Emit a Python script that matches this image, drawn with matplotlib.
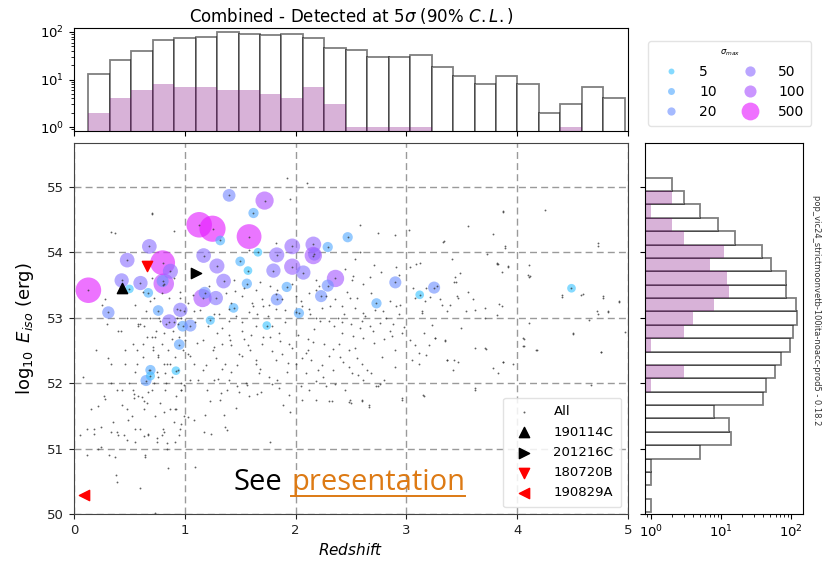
import numpy as np
import matplotlib
matplotlib.use('Agg')
import matplotlib.pyplot as plt
from matplotlib.colors import LogNorm
from matplotlib.lines import Line2D

# ── Data ──────────────────────────────────────────────────────────────────────

# top histogram (redshift), 25 bins
Z_EDGES = np.linspace(0.13, 4.97, 26)
Z_ALL = [13, 26, 39, 67, 75, 80, 100, 91, 85, 89, 73, 46, 42, 30, 30, 33, 18, 12, 8, 12, 8, 2, 3, 7, 4]
Z_DET = [2, 4, 6, 8, 7, 7, 6, 6, 5, 4, 7, 3, 1, 1, 1, 1, 0, 0, 0, 0, 0, 0, 1, 0, 0]

# right histogram (log10 Eiso), 25 bins, listed from bottom to top
E_EDGES = np.linspace(50.03, 55.14, 26)
E_ALL = [1, 0, 1, 1, 5, 14, 13, 8, 40, 44, 58, 72, 97, 105, 120, 115, 85, 85, 52, 38, 16, 9, 5, 3, 2]
E_DET = [0, 0, 0, 0, 0, 0, 0, 0, 0, 1, 3, 0, 1, 3, 4, 8, 13, 12, 7, 11, 3, 2, 1, 2, 0]

# all simulated GRBs (redshift, log10 Eiso)
ALL_POINTS = [
    (0.05, 51.2), (0.08, 52.1), (0.12, 50.9), (0.15, 51.6), (0.18, 51.3), (0.2, 52.5), (0.22, 51.0),
    (0.25, 53.2), (0.27, 51.8), (0.3, 52.9), (0.32, 50.9), (0.33, 52.3), (0.35, 51.4), (0.37, 54.3),
    (0.38, 50.6), (0.4, 51.2), (0.42, 52.8), (0.43, 51.9), (0.45, 51.2), (0.46, 52.5), (0.48, 53.0),
    (0.48, 51.6), (0.12, 51.3), (0.28, 51.75), (0.4, 52.8),
    (0.5, 52.0), (0.52, 51.5), (0.53, 52.6), (0.55, 51.1), (0.55, 53.2), (0.57, 52.3), (0.58, 51.8),
    (0.6, 52.9), (0.6, 51.3), (0.62, 52.4), (0.63, 51.6), (0.64, 50.9), (0.65, 53.1), (0.66, 52.7),
    (0.67, 51.2), (0.68, 52.2), (0.7, 54.6), (0.7, 51.9), (0.71, 52.5), (0.72, 53.3), (0.73, 51.5),
    (0.74, 52.8), (0.75, 51.1), (0.76, 52.1), (0.77, 53.0), (0.78, 51.7), (0.79, 52.6), (0.8, 51.3),
    (0.8, 53.5), (0.81, 52.3), (0.82, 51.9), (0.83, 52.9), (0.84, 51.0), (0.85, 52.5), (0.86, 53.3),
    (0.87, 51.6), (0.88, 52.1), (0.89, 52.8), (0.9, 51.4), (0.9, 53.6), (0.91, 52.4), (0.92, 51.8),
    (0.93, 53.0), (0.94, 52.2), (0.95, 51.2), (0.95, 52.7), (0.96, 53.4), (0.97, 51.9), (0.98, 52.5),
    (0.99, 51.5), (0.99, 53.1), (0.58, 52.9), (0.62, 53.4), (0.66, 51.7), (0.69, 53.0), (0.72, 52.0),
    (0.76, 52.4), (0.79, 51.2), (0.83, 52.0), (0.87, 52.3), (0.91, 51.1), (0.94, 52.9), (0.97, 52.0),
    (0.53, 51.9), (0.6, 50.4), (0.85, 50.7), (0.92, 51.6), (0.96, 51.3), (0.7, 52.7), (0.78, 52.95),
    (0.31, 52.38), (0.46, 52.3), (0.55, 52.17), (0.33, 52.0), (0.39, 51.89), (0.22, 51.65), (0.43, 51.67),
    (0.49, 51.44), (0.24, 51.33), (0.33, 51.26), (0.18, 51.23), (0.39, 51.26), (0.48, 51.13), (0.55, 51.3),
    (0.63, 51.19), (0.67, 51.22), (0.75, 51.16), (0.81, 51.26), (0.84, 51.08), (0.24, 51.03), (0.37, 50.87),
    (0.64, 50.87), (1.09, 50.72), (0.39, 50.49), (0.73, 50.02), (0.61, 51.79), (0.63, 51.72), (0.54, 51.77),
    (0.54, 51.84), (0.67, 51.87), (0.81, 51.56), (0.91, 51.6), (0.97, 51.38), (1.03, 51.48), (1.08, 51.43),
    (1.17, 51.26), (1.24, 51.23), (1.36, 51.33), (1.38, 51.28), (1.18, 51.51), (1.35, 51.51), (1.23, 51.72),
    (1.32, 51.74), (1.46, 51.62), (1.49, 51.87), (1.65, 51.84), (1.69, 51.87), (1.77, 51.1), (1.85, 51.92),
    (1.89, 51.67), (1.95, 51.56), (1.94, 51.82), (2.06, 51.74), (2.18, 51.74), (2.3, 51.73), (2.33, 51.73),
    (2.48, 51.71), (2.12, 51.89), (2.25, 52.1), (0.97, 51.89), (0.99, 51.97), (1.05, 52.05), (1.2, 51.89),
    (1.26, 52.05), (1.3, 52.07), (1.38, 51.89), (1.55, 52.0), (1.56, 51.97), (1.76, 52.1), (1.83, 52.05),
    (0.82, 52.15), (0.75, 52.17), (0.84, 52.3), (0.57, 52.5), (0.62, 52.6), (0.71, 52.55), (0.76, 52.43),
    (0.73, 52.71), (0.88, 52.68), (0.81, 52.76), (1.0, 52.66), (1.05, 52.41), (1.08, 52.3), (1.16, 52.2),
    (1.25, 52.51), (1.28, 52.38), (1.34, 52.6), (1.4, 52.73), (1.42, 52.58), (1.36, 52.3), (1.42, 52.17),
    (1.52, 52.41), (1.53, 52.68), (1.64, 52.3), (1.67, 52.15), (1.59, 52.51), (1.7, 52.6), (1.77, 52.71),
    (1.82, 52.35), (1.88, 52.45), (1.94, 52.6), (1.97, 52.53), (2.0, 52.3), (2.06, 52.38), (2.09, 52.15),
    (2.11, 52.51), (2.16, 52.63), (2.24, 52.28), (2.3, 52.41), (2.34, 52.2), (2.39, 52.6), (2.43, 52.33),
    (2.48, 52.51), (2.51, 52.15), (2.11, 52.68), (1.85, 52.76), (1.29, 52.76), (1.16, 52.66), (1.52, 52.79),
    (1.6, 52.73), (1.68, 52.22), (1.4, 52.05), (1.47, 52.28), (1.92, 52.17), (2.18, 52.03), (2.36, 51.98),
    (0.70, 54.58), (0.33, 54.31), (0.9, 54.33), (1.92, 55.14), (1.95, 54.81), (2.1, 55.06), (1.58, 54.04),
    (1.82, 54.14), (1.44, 53.58), (1.45, 53.41), (1.52, 53.33), (1.42, 53.23), (1.64, 53.43), (1.7, 53.28),
    (1.77, 53.48), (1.82, 53.36), (1.71, 53.18), (1.58, 53.08), (1.65, 53.05), (1.82, 53.13), (1.88, 53.28),
    (2.0, 53.33), (2.12, 53.38), (2.18, 53.58), (2.27, 53.33), (2.36, 53.28), (2.42, 53.18), (2.12, 53.13),
    (2.18, 53.0), (2.3, 52.95), (2.42, 52.93), (1.9, 52.93), (1.79, 52.88), (1.64, 52.88), (1.52, 52.93),
    (1.4, 52.95), (1.34, 52.85), (1.21, 52.88), (1.09, 52.93), (0.97, 53.0), (0.93, 53.13), (0.96, 53.3),
    (1.03, 53.23), (1.08, 53.1), (0.9, 52.93), (0.63, 52.88), (0.58, 52.88), (0.28, 53.29), (0.69, 53.25),
    (0.79, 53.38), (0.70, 53.6), (1.26, 53.05), (1.4, 53.13), (1.62, 53.18), (1.76, 53.2), (2.0, 53.08),
    (2.45, 53.74), (2.51, 53.58), (2.49, 53.3), (2.18, 53.43), (2.06, 53.18), (2.24, 53.15),
    (3.87, 54.62), (4.25, 54.64), (3.56, 54.4), (3.78, 54.28), (3.33, 54.16), (3.02, 54.34), (2.58, 54.42),
    (2.74, 54.3), (3.89, 54.07), (3.73, 53.98), (4.73, 54.1), (3.83, 53.82), (3.92, 53.77), (4.11, 53.8),
    (4.11, 53.62), (3.41, 53.9), (3.48, 53.69), (3.86, 53.7), (4.4, 53.32), (4.58, 53.34), (4.77, 53.3),
    (4.92, 53.24), (4.73, 53.05), (4.82, 53.08), (3.71, 53.0), (3.82, 53.04), (3.86, 53.18), (3.62, 53.12),
    (3.44, 53.62), (3.43, 53.55), (3.47, 53.3), (3.39, 53.2), (3.3, 53.28), (3.21, 53.32), (3.18, 53.45),
    (3.09, 53.82), (3.12, 53.84), (3.03, 53.78), (2.9, 54.26), (2.58, 54.0), (2.54, 53.9), (2.71, 53.8),
    (2.67, 53.62), (2.77, 53.7), (2.91, 53.77), (2.93, 53.65), (2.52, 53.63), (2.61, 53.52), (2.68, 53.38),
    (2.85, 53.25), (2.91, 53.18), (2.94, 53.2), (2.79, 53.1), (2.61, 53.07), (2.54, 53.15), (3.06, 53.45),
    (3.08, 53.3), (3.14, 53.1), (3.17, 53.25), (3.32, 53.2), (3.56, 53.4), (3.82, 53.82), (4.1, 53.65),
    (2.61, 52.69), (2.71, 52.62), (2.8, 52.67), (2.87, 52.72), (2.96, 52.77), (2.54, 52.53), (2.55, 52.38),
    (2.64, 52.2), (2.78, 52.4), (2.9, 52.24), (2.61, 52.05), (2.73, 51.95), (2.76, 51.98), (2.96, 51.77),
    (3.15, 51.82), (3.03, 52.66), (3.08, 52.59), (3.2, 52.59), (3.26, 52.69), (3.35, 52.64), (3.11, 52.3),
    (3.18, 52.43), (3.37, 52.35), (3.42, 52.2), (3.47, 52.33), (3.72, 52.52), (3.87, 52.33), (3.83, 52.16),
    (3.78, 52.23), (3.96, 52.3), (4.05, 52.69), (4.06, 52.56), (4.17, 52.51), (4.5, 52.75), (4.76, 52.47),
    (4.67, 51.97), (3.62, 51.9), (2.49, 51.74), (2.6, 51.74), (2.66, 51.66),
    (3.16, 51.8), (3.62, 51.92), (2.96, 51.74), (2.74, 51.95), (2.5, 51.69), (2.6, 51.72), (2.66, 51.64),
    (4.76, 52.48), (4.65, 52.97), (4.97, 52.78), (4.5, 52.77), (4.18, 52.51), (4.06, 52.67), (4.11, 52.92),
    (4.05, 52.57), (3.87, 52.33), (3.71, 52.53), (3.87, 54.63), (4.73, 54.14), (4.92, 53.25), (4.77, 53.33),
    (4.59, 53.36), (4.4, 53.34), (4.82, 53.1), (4.72, 53.11), (3.34, 54.17), (3.89, 54.09), (3.92, 53.79),
    (3.82, 53.84), (4.12, 53.64), (3.45, 53.54), (3.71, 53.15), (3.84, 53.21), (3.6, 53.28), (3.54, 53.1),
    (3.37, 53.1), (3.46, 53.33), (3.28, 53.48), (3.14, 53.07), (3.23, 52.89), (3.35, 52.66), (3.49, 52.84),
    (3.26, 52.69), (3.16, 52.77), (3.11, 52.46), (3.05, 52.36), (3.43, 52.36), (3.37, 52.35), (3.62, 52.54),
    (1.03, 52.45), (1.07, 53.35), (1.11, 52.62), (1.14, 53.12), (1.19, 52.28), (1.22, 53.48), (1.26, 52.55),
    (1.31, 53.05), (1.34, 52.22), (1.37, 53.38), (1.41, 52.66), (1.46, 53.02), (1.49, 52.44), (1.53, 53.45),
    (1.57, 52.58), (1.61, 53.22), (1.64, 52.36), (1.68, 53.55), (1.71, 52.71), (1.75, 53.02), (1.79, 52.49),
    (1.83, 53.42), (1.86, 52.64), (1.9, 53.12), (1.93, 52.31), (1.97, 53.52), (2.02, 52.74), (2.05, 53.25),
    (2.09, 52.46), (2.13, 53.06), (2.17, 52.82), (2.21, 53.48), (2.26, 52.6), (2.31, 53.18), (2.34, 52.52),
    (2.38, 53.0), (2.42, 52.76), (2.46, 53.4), (2.5, 52.9), (2.55, 53.3), (2.58, 52.85), (2.63, 53.02),
    (2.67, 52.88), (2.72, 53.12), (2.76, 52.92), (2.82, 53.0), (2.88, 52.9), (2.93, 53.05), (2.98, 52.86),
    (2.22, 52.95), (2.35, 52.88), (2.44, 53.05), (2.52, 52.72), (2.6, 52.95), (2.7, 52.8), (2.85, 52.8),
    (2.4, 52.4), (2.48, 52.25), (2.56, 52.12), (2.2, 52.2), (2.27, 51.95), (2.14, 52.36), (1.12, 52.05),
    (1.47, 51.95), (1.79, 51.98), (1.58, 51.8), (1.33, 51.85), (2.05, 51.95), (2.45, 51.9), (2.6, 52.3),
    (2.9, 52.5), (2.68, 52.15), (2.8, 52.05),
]

# detected GRBs: redshift, log10 Eiso, sigma_max
DET_Z = [0.13, 0.31, 0.43, 0.48, 0.50, 0.60, 0.68, 0.67, 0.80, 0.81, 0.80, 0.87, 0.76, 0.86, 0.96,
         0.98, 1.05, 0.95, 0.69, 0.65, 0.69, 0.92, 1.13, 1.25, 1.32, 1.17, 1.29, 1.35, 1.16, 1.18,
         1.28, 1.23, 1.44, 1.40, 1.62, 1.72, 1.58, 1.66, 1.50, 1.57, 1.56, 1.83, 1.80, 1.97, 1.97,
         2.07, 2.16, 2.17, 2.16, 1.92, 1.83, 1.74, 2.03, 2.29, 2.47, 2.36, 2.29, 2.23, 2.90, 2.73,
         3.12, 3.25, 4.49]
DET_E = [53.42, 53.08, 53.57, 53.88, 53.44, 53.53, 54.09, 53.38, 53.84, 53.52, 53.56, 53.71, 53.11,
         52.94, 53.12, 52.87, 52.88, 52.59, 52.20, 52.04, 52.11, 52.19, 54.42, 54.36, 54.18, 53.95,
         53.79, 53.56, 53.30, 53.38, 53.30, 52.96, 53.15, 54.87, 54.60, 54.79, 54.24, 54.00, 53.86,
         53.72, 53.52, 53.96, 53.72, 54.09, 53.78, 53.69, 54.12, 53.97, 53.95, 53.47, 53.28, 52.88,
         53.07, 54.08, 54.23, 53.60, 53.49, 53.33, 53.54, 53.22, 53.35, 53.46, 53.45]
DET_SIG = [450, 22, 40, 45, 5, 40, 45, 8, 400, 180, 20, 50, 12, 45, 40, 12, 20, 12, 10, 14, 6, 5,
           450, 500, 8, 45, 50, 45, 110, 20, 40, 6, 8, 25, 10, 110, 400, 5, 8, 5, 10, 50, 40, 60,
           70, 40, 60, 25, 90, 10, 20, 5, 10, 10, 10, 90, 20, 20, 20, 10, 5, 20, 5]

# highlighted real GRBs
GRB_NAMES = ['190114C', '201216C', '180720B', '190829A']
GRB_Z = [0.43, 1.10, 0.655, 0.09]
GRB_E = [53.45, 53.68, 53.79, 50.29]
GRB_MARKERS = ['^', '>', 'v', '<']
GRB_COLORS = ['black', 'black', 'red', 'red']

SIG_LEGEND = [5, 10, 20, 50, 100, 500]

# ── Style ─────────────────────────────────────────────────────────────────────

CMAP = plt.get_cmap('cool')
NORM = LogNorm(vmin=1, vmax=1000)
ALPHA = 0.62


def sig_size(sig):
    return 18 * np.asarray(sig, dtype=float) ** 0.48


fig = plt.figure(figsize=(8.33, 5.63), dpi=100)
W, H = 833, 563


def frac(x0, y0, x1, y1):
    # pixel box (top-left origin) -> figure fraction rect
    return [x0 / W, 1 - y1 / H, (x1 - x0) / W, (y1 - y0) / H]


ax = fig.add_axes(frac(74, 143, 628, 514))
ax_top = fig.add_axes(frac(74, 28, 628, 131), sharex=ax)
ax_right = fig.add_axes(frac(645, 143, 803, 514), sharey=ax)

# ── Main scatter ──────────────────────────────────────────────────────────────
det_z = np.array(DET_Z)
det_e = np.array(DET_E)
det_s = np.array(DET_SIG)

ax.scatter(det_z, det_e, s=sig_size(det_s), c=det_s, cmap=CMAP, norm=NORM,
           alpha=ALPHA, edgecolors='none', zorder=2)

pts = np.array(ALL_POINTS + list(zip(DET_Z, DET_E)))
ax.scatter(pts[:, 0], pts[:, 1], s=7, color='#3a3a3a', alpha=0.8, marker='.',
           linewidths=0, zorder=3, label='All')

for name, z, e, m, c in zip(GRB_NAMES, GRB_Z, GRB_E, GRB_MARKERS, GRB_COLORS):
    ax.scatter([z], [e], marker=m, color=c, s=55, zorder=4, label=name)

ax.set_xlim(0, 5)
ax.set_ylim(50, 55.67)
ax.set_xticks([0, 1, 2, 3, 4, 5])
ax.set_yticks([50, 51, 52, 53, 54, 55])
ax.grid(True, ls=(0, (5, 3)), color='#9a9a9a', lw=1.0)
ax.tick_params(labelsize=9.5, colors='#222222')
ax.set_xlabel(r'$Redshift$', fontsize=11, labelpad=4)
ax.set_ylabel(r'$\log_{10}\ E_{iso}$ (erg)', fontsize=13, labelpad=8)
for sp in ax.spines.values():
    sp.set_color('#444444')

leg = ax.legend(loc='lower right', fontsize=9.5, handletextpad=1.2,
                borderpad=0.6, labelspacing=0.55, framealpha=0.85, edgecolor='#dddddd')
leg.legend_handles[0].set_sizes([8])

# "See presentation" overlay
t1 = ax.text(1.44, 50.36, 'See', fontsize=21, family='Open Sans', color='black',
             ha='left', va='baseline', zorder=6)
t2 = ax.text(1.96, 50.36, 'presentation', fontsize=21, family='Open Sans', color='#dd7a14',
             ha='left', va='baseline', zorder=6)

# ── Top histogram ─────────────────────────────────────────────────────────────
zc = 0.5 * (Z_EDGES[:-1] + Z_EDGES[1:])
ax_top.hist(zc, bins=Z_EDGES, weights=Z_ALL, log=True, facecolor='white',
            edgecolor=(0, 0, 0, 0.5), linewidth=1.3)
ax_top.hist(zc, bins=Z_EDGES, weights=Z_DET, log=True, color='purple', alpha=0.3)
ax_top.set_ylim(0.83, 121)
ax_top.set_yticks([1, 10, 100])
ax_top.tick_params(axis='x', labelbottom=False)
ax_top.tick_params(labelsize=9.5)
ax_top.set_title(r'Combined - Detected at 5$\sigma$ (90% $C.L.$)', fontsize=12, pad=4)

# ── Right histogram ───────────────────────────────────────────────────────────
ec = 0.5 * (E_EDGES[:-1] + E_EDGES[1:])
ax_right.hist(ec, bins=E_EDGES, weights=E_ALL, log=True, orientation='horizontal',
              facecolor='white', edgecolor=(0, 0, 0, 0.5), linewidth=1.3)
ax_right.hist(ec, bins=E_EDGES, weights=E_DET, log=True, orientation='horizontal',
              color='purple', alpha=0.3)
ax_right.set_xlim(0.83, 147)
ax_right.set_xticks([1, 10, 100])
ax_right.tick_params(axis='y', labelleft=False)
ax_right.tick_params(labelsize=9.5)

# ── sigma_max legend ──────────────────────────────────────────────────────────
handles = [Line2D([], [], ls='', marker='o', markersize=np.sqrt(sig_size(s)),
                  markerfacecolor=CMAP(NORM(s)), markeredgecolor='none', alpha=ALPHA)
           for s in SIG_LEGEND]
fig.legend(handles, [str(s) for s in SIG_LEGEND], ncol=2, title=r'$\sigma_{max}$',
           title_fontsize=6, fontsize=10, loc='upper left', markerscale=0.68,
           bbox_to_anchor=(641 / W, 1 - 34 / H), frameon=True, edgecolor='#dddddd',
           columnspacing=1.2, handletextpad=0.9, labelspacing=0.45, borderpad=0.5,
           handlelength=2.3)

fig.text(817 / W, 1 - 310 / H, 'pop_vic24_strictmoonvetb-100ita-noacc-prod5 - 0.18.2',
         rotation=-90, fontsize=6, color='#333333', ha='center', va='center')

# underline for the link text
fig.canvas.draw()
bb = t2.get_window_extent().transformed(fig.transFigure.inverted())
fig.add_artist(Line2D([bb.x0, bb.x1], [bb.y0 + 0.002, bb.y0 + 0.002],
                      color='#dd7a14', lw=1.4, transform=fig.transFigure))

fig.savefig('out.png', dpi=100)
